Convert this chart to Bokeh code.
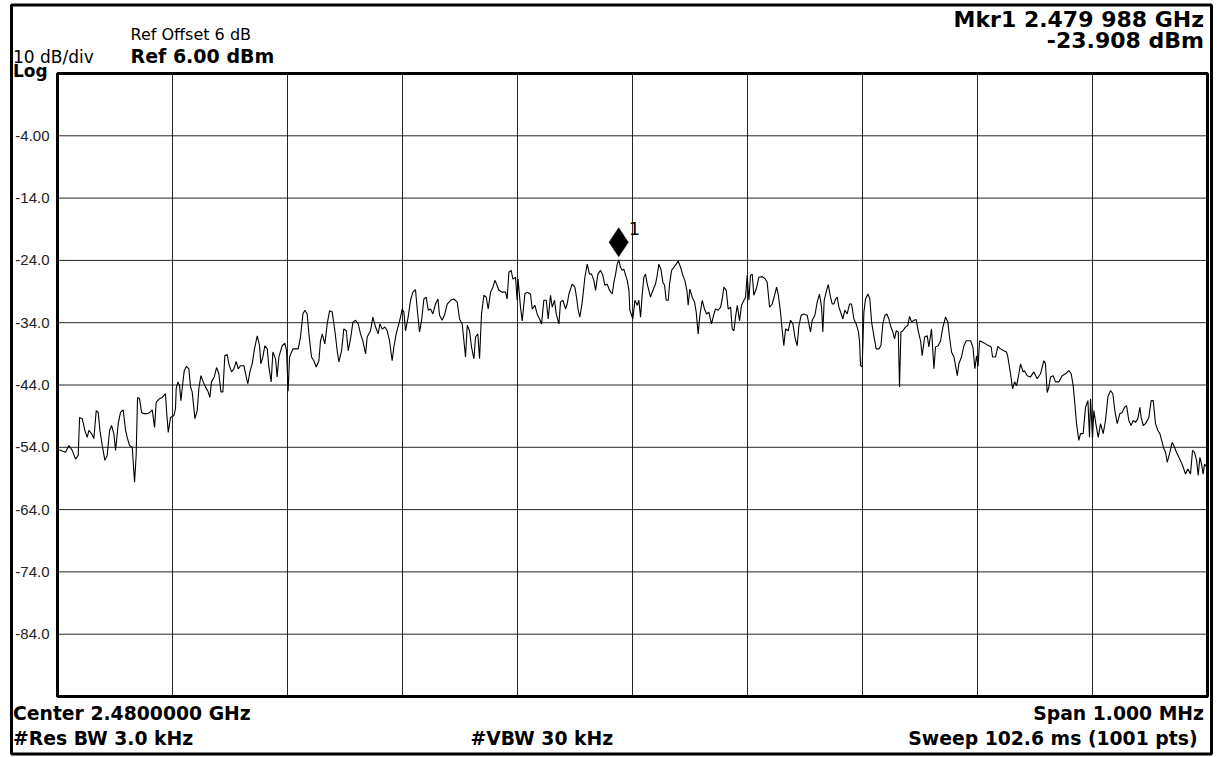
from bokeh.plotting import figure
from bokeh.models import Label, Range1d
from bokeh.core.properties import value
from bokeh.embed import file_html
from bokeh.resources import INLINE

# ---------------- data ----------------
# frequency offset from centre (kHz), centre = 2.4800000 GHz, span 1 MHz
freq_khz = [
    -500.0, -498.8, -495.9, -493.0, -490.1, -487.2, -484.3, -482.0, -480.8, -478.5,
    -476.2, -474.2, -472.7, -470.4, -468.4, -466.3, -464.6, -463.1, -461.1, -458.8,
    -456.8, -454.7, -453.0, -451.0, -449.5, -447.2, -445.2, -442.9, -440.8, -439.4,
    -437.4, -435.0, -433.0, -431.6, -430.4, -428.7, -426.9, -424.9, -422.0, -419.7,
    -417.6, -415.6, -414.2, -411.3, -409.0, -406.1, -405.2, -403.7, -401.7, -398.8,
    -397.4, -396.8, -395.3, -393.9, -392.7, -391.6, -389.8, -387.8, -385.8, -384.3,
    -382.9, -380.5, -378.5, -377.1, -375.3, -373.3, -371.3, -369.0, -367.5, -366.1,
    -363.7, -361.7, -359.7, -357.9, -356.2, -354.5, -352.4, -351.0, -348.7, -346.6,
    -344.6, -342.9, -340.8, -337.9, -335.9, -334.5, -332.7, -330.7, -328.7, -326.3,
    -324.3, -323.2, -321.4, -319.7, -317.6, -316.2, -314.2, -312.7, -310.4, -309.0,
    -307.5, -304.6, -302.3, -300.8, -299.5,
    -298.2, -295.3, -290.7, -288.7, -286.6, -284.9, -282.9, -281.4, -279.1, -277.1,
    -275.0, -272.7, -271.3, -269.8, -267.5, -265.5, -263.4, -261.1, -258.8, -256.8,
    -255.3, -253.0, -251.0, -248.9, -247.2, -245.2, -243.1, -240.8, -238.5, -236.5,
    -234.5, -232.1, -230.7, -227.8, -225.8, -223.4, -221.1, -219.7, -217.6, -215.3,
    -213.3, -211.3, -209.0, -207.5, -205.5, -203.2, -201.7, -200.3, -198.8, -197.4,
    -195.1, -193.0, -191.0, -188.7, -187.2, -185.2, -183.4, -181.4, -179.4, -177.6,
    -175.6, -173.6, -171.3, -169.2, -167.8, -165.5, -163.2, -161.1, -158.2, -155.3,
    -152.4, -150.4, -148.1, -146.6, -145.2, -143.7, -141.7, -140.0, -137.9, -136.5,
    -134.5, -133.0, -131.3, -129.2, -127.2, -125.5, -123.4, -121.4, -119.7, -118.2,
    -116.2, -113.3, -110.4, -109.0, -107.5, -105.5, -104.0, -101.7, -100.3, -99.5,
    -97.4, -95.9, -93.6, -91.6, -88.7, -87.2, -84.9, -82.9, -80.8, -79.1,
    -77.1, -75.0, -73.3, -71.3, -69.8, -67.8, -66.3, -64.0, -62.6, -60.5,
    -58.2, -56.8, -55.3, -52.4, -50.1, -48.7, -47.2, -45.8, -43.7, -41.4,
    -39.4, -37.4, -35.6, -33.6, -32.1, -30.1, -27.8, -25.8, -24.0, -22.0,
    -20.0, -17.6, -16.2, -14.7, -13.3, -12.0, -10.4, -8.9, -7.5, -6.0,
    -4.6, -3.1, -2.3, -0.8, 0.3, 2.1, 4.1, 5.5, 7.0, 8.4,
    9.9, 11.3, 12.8, 14.2, 15.7, 17.1, 20.0, 21.5, 22.9, 24.7,
    26.4, 27.9, 29.3, 31.1, 32.2, 34.0, 36.0, 38.0, 39.7, 41.8,
    43.8, 45.5, 47.3, 48.4, 49.9, 51.9, 54.0, 55.4, 57.1, 58.6,
    60.6, 62.6, 64.4, 66.4, 68.7, 70.8, 72.2, 74.5, 76.6, 78.0,
    79.5, 81.5, 83.2, 85.3, 86.7, 88.2, 89.6, 91.1, 93.1, 94.8,
    96.9, 98.3, 99.7, 101.2,
    102.6, 104.1, 105.5, 107.6, 109.9, 112.8, 115.1, 117.1, 119.2, 121.5,
    123.8, 125.3, 126.7, 128.7, 130.2, 131.6, 133.1, 135.4, 137.4, 139.5,
    141.2, 143.2, 144.7, 146.7, 149.0, 151.9, 153.4, 154.8, 156.3, 158.6,
    160.6, 162.6, 164.4, 165.5, 166.7, 168.4, 170.2, 172.2, 173.7, 175.1,
    176.6, 178.0, 179.5, 181.5, 182.9, 184.7, 186.7, 188.7, 190.5, 192.5,
    194.5, 196.3, 197.4, 198.3, 199.7, 201.2, 202.6, 204.7, 206.4, 207.9,
    209.9, 211.9, 214.2, 216.0, 217.7, 219.5, 221.2, 222.9, 224.7, 226.4,
    227.9, 229.3, 231.1, 232.2, 233.4, 235.1, 237.4, 239.5, 240.9, 242.7,
    244.7, 246.7, 248.4, 250.5, 251.9, 254.0, 256.3, 257.7, 260.0, 262.1,
    263.5, 265.8, 267.9, 269.9, 272.2, 274.2, 275.7, 277.4, 279.5, 280.9,
    282.4, 283.8, 286.1, 288.2, 290.2, 291.9, 294.0, 296.0, 297.7, 299.2,
    300.5,
    301.8, 304.1, 307.0, 309.9, 311.9, 313.1, 315.7, 317.7, 320.0, 322.9,
    325.2, 326.4, 328.7, 330.5, 332.2, 334.0, 336.0, 337.4, 339.7, 340.9,
    343.2, 346.1, 349.0, 351.9, 354.8, 357.7, 359.1, 360.6, 362.0, 363.5,
    365.8, 367.8, 370.7, 373.6, 376.5, 379.4, 381.5, 383.2, 384.4, 386.1,
    388.1, 389.6, 391.9, 393.9, 396.0, 397.4, 398.3, 400.0, 401.2, 402.9,
    405.0, 407.0, 409.3, 411.3, 413.4, 415.7, 417.7, 419.4, 421.5, 423.8,
    425.8, 427.8, 429.6, 431.6, 433.6, 435.4, 437.4, 439.4, 441.2, 442.3,
    444.1, 446.1, 449.0, 451.0, 452.8, 454.8, 456.8, 458.6, 460.6, 462.0,
    463.5, 465.0, 467.0, 469.3, 470.7, 473.0, 475.1, 476.5, 478.9, 480.9,
    482.9, 485.2, 487.0, 488.7, 490.5, 491.9, 493.4, 494.8, 496.2, 497.4,
    498.6, 500.0,
]

# trace level (dBm)
level_dbm = [
    -54.3, -54.4, -54.6, -54.8, -53.7, -54.5, -55.9, -55.3, -49.2, -49.4,
    -51.3, -52.4, -51.3, -51.8, -52.6, -48.1, -48.4, -51.3, -53.7, -56.1,
    -55.3, -51.3, -50.5, -51.8, -54.5, -50.2, -48.4, -48.0, -51.3, -52.4,
    -53.7, -54.0, -59.6, -55.3, -46.0, -46.2, -48.4, -48.6, -48.6, -48.4,
    -48.0, -50.8, -46.8, -46.2, -46.0, -45.4, -48.1, -51.6, -49.2, -48.9,
    -47.8, -44.6, -43.5, -44.1, -46.5, -44.6, -41.7, -41.0, -41.4, -44.3,
    -45.1, -49.4, -48.1, -44.6, -42.5, -43.5, -44.3, -45.1, -46.0, -43.5,
    -42.7, -41.2, -42.2, -45.1, -45.1, -39.3, -39.1, -40.6, -41.9, -41.4,
    -40.2, -41.4, -40.9, -40.9, -42.7, -43.8, -41.9, -40.6, -38.2, -36.1,
    -37.7, -40.6, -39.5, -37.7, -38.2, -41.1, -43.5, -38.7, -39.8, -42.7,
    -39.5, -37.7, -37.3, -38.5, -45.0,
    -39.5, -38.2, -38.2, -36.3, -32.6, -32.0, -32.6, -35.8, -39.5, -40.1,
    -41.1, -40.1, -36.9, -35.8, -37.4, -34.2, -32.1, -32.3, -35.3, -38.5,
    -40.3, -38.5, -35.0, -35.3, -38.5, -36.6, -33.9, -33.6, -34.2, -35.8,
    -36.9, -39.0, -36.3, -35.3, -33.1, -34.7, -35.8, -34.2, -35.0, -34.7,
    -35.3, -36.9, -40.1, -37.9, -35.8, -34.2, -33.1, -31.8, -32.3, -35.3,
    -33.1, -30.4, -29.1, -28.7, -31.8, -35.5, -33.6, -30.2, -29.9, -32.0,
    -31.8, -32.6, -31.0, -30.2, -32.8, -33.6, -32.6, -31.0, -30.4, -30.2,
    -30.7, -33.4, -34.2, -36.9, -39.5, -34.4, -35.3, -37.9, -39.8, -36.3,
    -35.8, -39.8, -32.6, -29.6, -29.9, -31.8, -29.1, -28.3, -27.2, -27.8,
    -28.8, -29.1, -29.1, -30.2, -25.9, -25.6, -27.0, -26.7, -30.4, -27.0,
    -31.5, -33.7, -29.4, -29.1, -29.4, -31.8, -31.2, -32.6, -33.4, -34.2,
    -30.4, -30.4, -33.4, -29.6, -31.5, -30.4, -32.6, -34.2, -30.7, -30.4,
    -31.8, -31.0, -29.4, -27.8, -28.3, -29.9, -32.0, -33.1, -30.7, -26.7,
    -24.6, -26.2, -26.2, -27.2, -28.8, -26.2, -25.6, -26.4, -28.0, -27.8,
    -28.8, -29.4, -27.5, -26.2, -24.6, -23.908, -25.1, -25.6, -25.4, -26.4,
    -27.2, -28.8, -32.0, -32.8, -33.4, -30.4, -31.2, -30.4, -33.1, -29.6,
    -26.7, -26.2, -27.8, -28.8, -29.9, -29.1, -27.8, -26.4, -24.6, -25.4,
    -27.5, -28.0, -30.4, -30.4, -27.8, -25.6, -25.1, -24.6, -24.1, -25.1,
    -26.4, -27.2, -28.8, -31.2, -28.6, -29.9, -30.7, -32.3, -35.8, -32.8,
    -30.4, -31.8, -32.6, -32.3, -34.2, -32.6, -31.8, -32.0, -31.5, -30.2,
    -28.3, -28.8, -31.8, -31.5, -35.0, -35.3, -33.1, -31.2, -33.7, -31.2,
    -30.4, -29.9, -26.4, -30.4,
    -26.4, -26.2, -29.6, -28.6, -26.7, -26.6, -26.9, -27.5, -31.5, -31.0,
    -29.4, -28.3, -29.4, -32.3, -35.3, -37.7, -35.0, -35.3, -33.6, -34.2,
    -36.3, -37.7, -34.5, -32.8, -32.6, -32.8, -34.2, -35.5, -33.6, -32.8,
    -30.7, -29.4, -31.5, -35.5, -30.4, -29.1, -27.9, -29.9, -31.0, -31.0,
    -30.2, -29.9, -31.5, -32.6, -33.4, -32.0, -32.6, -31.0, -31.0, -33.4,
    -34.2, -35.3, -36.9, -40.9, -41.1, -32.3, -30.2, -29.4, -30.2, -33.9,
    -36.1, -38.2, -38.2, -37.7, -34.2, -32.8, -32.6, -33.4, -34.7, -35.5,
    -36.6, -35.3, -35.5, -44.3, -35.5, -35.3, -34.7, -34.4, -33.0, -33.9,
    -33.6, -33.5, -35.3, -36.9, -39.3, -36.3, -36.1, -37.9, -35.0, -41.4,
    -37.9, -37.7, -36.9, -34.7, -33.1, -33.9, -36.3, -38.7, -39.5, -40.9,
    -42.5, -40.6, -39.5, -37.7, -36.9, -36.9, -36.9, -37.9, -41.4, -39.3,
    -41.0,
    -36.9, -37.1, -37.4, -37.7, -37.9, -39.5, -39.5, -37.8, -38.2, -38.5,
    -38.7, -39.5, -42.2, -44.6, -43.5, -44.1, -42.2, -40.6, -41.9, -41.7,
    -42.5, -42.7, -41.9, -43.0, -42.2, -40.1, -40.6, -45.2, -44.4, -42.7,
    -42.5, -43.5, -43.5, -42.5, -42.2, -41.7, -42.2, -44.1, -46.5, -50.2,
    -52.9, -51.8, -51.8, -47.6, -46.5, -52.4, -46.2, -52.6, -48.1, -50.2,
    -52.4, -50.2, -51.8, -49.7, -45.9, -44.9, -45.4, -48.1, -50.2, -48.6,
    -48.4, -47.6, -47.3, -49.7, -50.5, -49.7, -50.0, -49.4, -47.6, -49.2,
    -50.5, -50.2, -49.2, -46.5, -46.5, -50.2, -51.3, -51.8, -53.2, -54.2,
    -54.8, -56.4, -55.0, -53.2, -53.7, -54.8, -55.6, -56.1, -57.2, -58.3,
    -57.5, -58.3, -54.5, -54.8, -56.1, -58.5, -55.6, -56.7, -58.3, -56.7,
    -57.0, -57.2,
]

y_ticks = [-4, -14, -24, -34, -44, -54, -64, -74, -84]
y_tick_labels = ["-4.00", "-14.0", "-24.0", "-34.0", "-44.0", "-54.0", "-64.0", "-74.0", "-84.0"]
x_grid_khz = [-400, -300, -200, -100, 0, 100, 200, 300, 400]
ref_level = 6.0
bottom_level = -94.0
span_khz = 1000.0
marker_khz = -12.0
marker_dbm = -23.908

# ---------------- layout (pixels of the 1217x757 picture) ----------------
W, H = 1217, 757
GX0, GX1, GY0, GY1 = 57, 1207, 73, 696     # graticule box in pixels
px_per_khz = (GX1 - GX0) / span_khz
px_per_db = (GY1 - GY0) / (ref_level - bottom_level)

def dx(px):
    return -span_khz / 2 + (px - GX0) / px_per_khz

def dy(py):
    return ref_level - (py - GY0) / px_per_db

# the frame covers the whole canvas, so that the annotation texts around the
# graticule are not clipped; data coordinates are still kHz / dBm
p = figure(width=W, height=H, output_backend="svg", toolbar_location=None,
           x_range=Range1d(dx(0), dx(W)), y_range=Range1d(dy(H), dy(0)),
           x_axis_location=None, y_axis_location=None,
           min_border=0, background_fill_color="white", border_fill_color="white")
p.outline_line_color = None
p.grid.visible = False

lo, hi = -span_khz / 2, span_khz / 2
# graticule
p.segment(x0=x_grid_khz, y0=[bottom_level] * len(x_grid_khz),
          x1=x_grid_khz, y1=[ref_level] * len(x_grid_khz),
          line_color="black", line_width=1, line_alpha=0.85)
p.segment(x0=[lo] * len(y_ticks), y0=y_ticks, x1=[hi] * len(y_ticks), y1=y_ticks,
          line_color="black", line_width=1, line_alpha=0.85)

# y tick labels
p.text(x=[dx(GX0 - 8)] * len(y_ticks), y=y_ticks, text=y_tick_labels,
       text_font=value("Liberation Sans"), text_font_size="15px", text_color="#222222",
       text_align="right", text_baseline="middle")

# trace
p.line(freq_khz, level_dbm, line_color="black", line_width=1.1)

# graticule border
p.quad(left=[lo], right=[hi], bottom=[bottom_level], top=[ref_level],
       fill_color=None, line_color="black", line_width=3)

# outer instrument frame
p.quad(left=[dx(11)], right=[dx(1211)], bottom=[dy(753.5)], top=[dy(4.5)],
       fill_color=None, line_color="black", line_width=3)

# marker (diamond floats above the trace point)
p.scatter([marker_khz], [marker_dbm + 17.6 / px_per_db], marker="diamond", size=29,
          fill_color="black", line_color="black", line_width=0.5)
p.add_layout(Label(x=marker_khz, y=marker_dbm, x_offset=10, y_offset=31, text="1",
                   text_font="DejaVu Sans", text_font_size="18px", text_color="black",
                   text_align="left", text_baseline="alphabetic"))

BASE_SHIFT = 0.37   # rendered alphabetic baseline sits this many ems lower

def txt(t, rx, ry, size, bold=False, align="left", font="DejaVu Sans"):
    p.add_layout(Label(x=dx(rx), y=dy(ry - BASE_SHIFT * size), text=t,
                       text_font=font, text_font_size=f"{size}px",
                       text_font_style="bold" if bold else "normal",
                       text_color="black", text_align=align, text_baseline="alphabetic"))

txt("Ref Offset 6 dB", 130, 39.5, 16)
txt("10 dB/div", 12.5, 62.7, 17)
txt("Ref 6.00 dBm", 130, 62.7, 19, bold=True)
txt("Log", 12.5, 77, 17, bold=True)
txt("Mkr1 2.479 988 GHz", 1203.5, 26.7, 22, bold=True, align="right")
txt("-23.908 dBm", 1203.5, 47.7, 22, bold=True, align="right")
txt("Center 2.4800000 GHz", 12.5, 720, 18.8, bold=True)
txt("#Res BW 3.0 kHz", 12.5, 745, 18.8, bold=True)
txt("#VBW 30 kHz", 470, 745, 18.8, bold=True)
txt("Span 1.000 MHz", 1203.5, 720, 18.8, bold=True, align="right")
txt("Sweep  102.6 ms (1001 pts)", 1203.5, 745, 18.8, bold=True, align="right")

open("out.html", "w").write(file_html(p, INLINE))
